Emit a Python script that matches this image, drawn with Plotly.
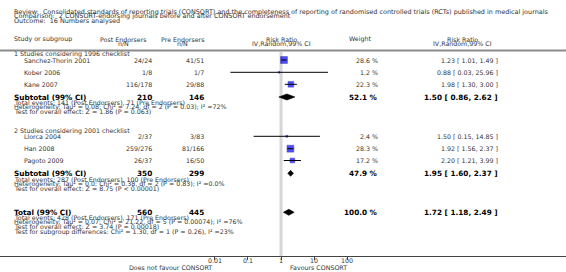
import math
import plotly.graph_objects as go

# ---------------- data ----------------
review = "Review:\u00a0 Consolidated standards of reporting trials (CONSORT) and the completeness of reporting of randomised controlled trials (RCTs) published in medical journals"
comparison = "Comparison:\u00a0 2 CONSORT-endorsing journals before and after CONSORT endorsement"
outcome = "Outcome:\u00a0 16 Numbers analysed"

group_names = ["1 Studies considering 1996 checklist", "2 Studies considering 2001 checklist"]

study_names = ["Sanchez-Thorin 2001", "Kober 2006", "Kane 2007",
               "Llorca 2004", "Han 2008", "Pagoto 2009"]
study_group = [0, 0, 0, 1, 1, 1]
post_events = [24, 1, 116, 2, 259, 26]
post_total = [24, 8, 178, 37, 276, 37]
pre_events = [41, 1, 29, 3, 81, 16]
pre_total = [51, 7, 88, 83, 166, 50]
study_rr = [1.23, 0.88, 1.98, 1.50, 1.92, 2.20]
study_lo = [1.01, 0.03, 1.30, 0.15, 1.56, 1.21]
study_hi = [1.49, 25.96, 3.00, 14.85, 2.37, 3.99]
study_weight = [28.6, 1.2, 22.3, 2.4, 28.3, 17.2]

pooled_labels = ["Subtotal (99% CI)", "Subtotal (99% CI)", "Total (99% CI)"]
pooled_post_total = [210, 350, 560]
pooled_pre_total = [146, 299, 445]
pooled_rr = [1.50, 1.95, 1.72]
pooled_lo = [0.86, 1.60, 1.18]
pooled_hi = [2.62, 2.37, 2.49]
pooled_weight = [52.1, 47.9, 100.0]
pooled_info = [
    ["Total events: 141 (Post Endorsers), 71 (Pre Endorsers)",
     "Heterogeneity: Tau\u00b2 = 0.08; Chi\u00b2 = 7.24, df = 2 (P = 0.03); I\u00b2 =72%",
     "Test for overall effect: Z = 1.86 (P = 0.063)"],
    ["Total events: 287 (Post Endorsers), 100 (Pre Endorsers)",
     "Heterogeneity: Tau\u00b2 = 0.0; Chi\u00b2 = 0.38, df = 2 (P = 0.83); I\u00b2 =0.0%",
     "Test for overall effect: Z = 8.75 (P < 0.00001)"],
    ["Total events: 428 (Post Endorsers), 171 (Pre Endorsers)",
     "Heterogeneity: Tau\u00b2 = 0.07; Chi\u00b2 = 21.22, df = 5 (P = 0.00074); I\u00b2 =76%",
     "Test for overall effect: Z = 3.74 (P = 0.00018)",
     "Test for subgroup differences: Chi\u00b2 = 1.30, df = 1 (P = 0.26), I\u00b2 =23%"],
]

tick_vals = [0.01, 0.1, 1, 10, 100]
tick_text = ["0.01", "0.1", "1", "10", "100"]
left_label = "Does not favour CONSORT"
right_label = "Favours CONSORT"

# ---------------- layout (pixel positions) ----------------
W, H, B = 566, 272, 16
PLOT_H = H - B
FONT = "DejaVu Sans"
FS = 6.3
FSH = 6.45
FSB = 7.3
TXT = "#333333"

group_y = [54, 130.7]
study_y = [60, 72.3, 84.3, 136.3, 148.7, 160.5]
pooled_y = [97, 173.3, 212.3]
info_y0 = [102, 179, 217.3]
info_dy = 4.8

X_LEFT = 13
X_STUDY = 23
X_POST = 153
X_PRE = 205
X_WEIGHT = 379
X_RR = 498.5

annotations = []


def py(y):
    return (PLOT_H - y) / PLOT_H


def txt(x, y, s, anchor="left", bold=False, size=None, color=TXT):
    annotations.append(dict(
        x=x / W, y=py(y), xref="paper", yref="paper",
        text=f"<b>{s}</b>" if bold else s, showarrow=False,
        xanchor=anchor, yanchor="middle", borderpad=0,
        font=dict(family=FONT, size=size or (FSB if bold else FS),
                  color="#000000" if bold else color)))


# header
txt(X_LEFT, 11.7, review, size=FSH)
txt(X_LEFT, 16.3, comparison, size=FSH)
txt(X_LEFT, 20.7, outcome, size=FSH)
txt(X_LEFT, 39, "Study or subgroup")
txt(123, 39, "Post Endorsers", "center")
txt(123, 43.7, "n/N", "center")
txt(182, 39, "Pre Endorsers", "center")
txt(182, 43.7, "n/N", "center")
txt(281, 39, "Risk Ratio", "center")
txt(281, 43.7, "IV,Random,99% CI", "center")
txt(348, 39, "Weight")
txt(462, 39, "Risk Ratio", "center")
txt(462, 43.7, "IV,Random,99% CI", "center")

for g, name in enumerate(group_names):
    txt(X_LEFT, group_y[g], name)

for i, name in enumerate(study_names):
    y = study_y[i]
    txt(X_STUDY, y, name)
    txt(X_POST, y, f"{post_events[i]}/{post_total[i]}", "right")
    txt(X_PRE, y, f"{pre_events[i]}/{pre_total[i]}", "right")
    txt(X_WEIGHT, y, f"{study_weight[i]:.1f} %", "right")
    txt(X_RR, y, f"{study_rr[i]:.2f} [ {study_lo[i]:.2f}, {study_hi[i]:.2f} ]", "right")

for k, lab in enumerate(pooled_labels):
    y = pooled_y[k]
    txt(X_LEFT, y, lab, bold=True)
    txt(X_POST, y, str(pooled_post_total[k]), "right", bold=True)
    txt(X_PRE, y, str(pooled_pre_total[k]), "right", bold=True)
    txt(X_WEIGHT, y, f"{pooled_weight[k]:.1f} %", "right", bold=True)
    txt(X_RR, y, f"{pooled_rr[k]:.2f} [ {pooled_lo[k]:.2f}, {pooled_hi[k]:.2f} ]", "right", bold=True)
    for j, line in enumerate(pooled_info[k]):
        txt(X_LEFT, info_y0[k] + j * info_dy, line)

# axis tick labels, placed on the log x-axis
for v, t in zip(tick_vals, tick_text):
    annotations.append(dict(
        x=math.log10(v), y=py(260.5), xref="x", yref="paper", text=t,
        showarrow=False, xanchor="center", yanchor="middle", borderpad=0,
        font=dict(family=FONT, size=FS, color=TXT)))

txt(213, 267.5, left_label, "right")
txt(289, 267.5, right_label, "left")

# ---------------- traces ----------------
fig = go.Figure()

# line of no effect
fig.add_trace(go.Scatter(x=[1, 1], y=[52, PLOT_H], mode="lines",
                         line=dict(color="#d6d6d6", width=3), hoverinfo="skip"))

# study squares
fig.add_trace(go.Scatter(
    x=study_rr, y=study_y, mode="markers",
    marker=dict(symbol="square", color="#0000ff",
                size=[1.5 + 0.19 * w for w in study_weight],
                line=dict(color="#00008b", width=0.5)),
    hoverinfo="skip"))

# CI lines
cx, cy = [], []
for i in range(len(study_names)):
    cx += [study_lo[i], study_hi[i], None]
    cy += [study_y[i], study_y[i], None]
fig.add_trace(go.Scatter(x=cx, y=cy, mode="lines",
                         line=dict(color="#000000", width=1), hoverinfo="skip"))

# diamonds
DH = 3
for k in range(len(pooled_labels)):
    y = pooled_y[k]
    fig.add_trace(go.Scatter(
        x=[pooled_lo[k], pooled_rr[k], pooled_hi[k], pooled_rr[k], pooled_lo[k]],
        y=[y, y - DH, y, y + DH, y],
        mode="lines", fill="toself", fillcolor="#000000",
        line=dict(color="#000000", width=0.6), hoverinfo="skip"))

fig.update_layout(
    width=W, height=H,
    margin=dict(l=0, r=0, t=0, b=B, pad=0),
    paper_bgcolor="#ffffff", plot_bgcolor="#ffffff",
    showlegend=False,
    annotations=annotations,
    shapes=[dict(type="line", xref="paper", yref="y", x0=0, x1=1,
                 y0=50.5, y1=50.5, line=dict(color="#8c8c8c", width=2))],
    xaxis=dict(type="log", range=[-8.46, 8.58], domain=[0, 1],
               showline=True, linecolor="#444444", linewidth=1,
               ticks="outside", ticklen=3, tickcolor="#444444",
               tickvals=tick_vals, showticklabels=False,
               showgrid=False, zeroline=False, fixedrange=True),
    yaxis=dict(range=[PLOT_H, 0], domain=[0, 1], visible=False,
               showgrid=False, zeroline=False, fixedrange=True),
)

fig.write_html(
    "out.html",
    config={"displayModeBar": False},
    post_script="document.body.style.margin='0px';document.body.style.overflow='hidden';",
)
